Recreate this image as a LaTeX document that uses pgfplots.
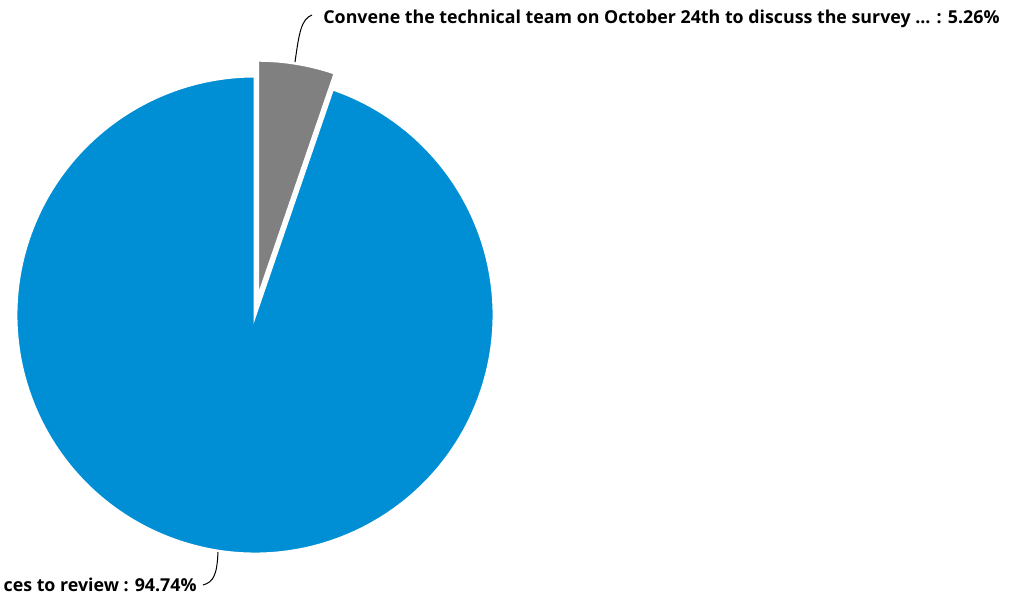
\documentclass[border=0pt]{standalone}
\usepackage{pgfplots}
\pgfplotsset{compat=1.18}
\usepackage{fontspec}
\setmainfont{Open Sans}
\definecolor{pieblue}{RGB}{0,143,213}
\definecolor{piegray}{RGB}{128,128,128}
\begin{document}
\begin{tikzpicture}
\def\va{94.74}
\def\vb{5.26}
\pgfmathsetmacro\ab{90-\vb*3.6}
\pgfmathsetmacro\mid{90-\vb*1.8}
\clip (0,0) rectangle (506.5pt,297pt);
\begin{axis}[at={(0,0)},anchor=south west,width=506.5pt,height=297pt,scale only axis,
  xmin=0,xmax=1013,ymin=0,ymax=594,hide axis,clip=false]
\filldraw[fill=pieblue,draw=white,line width=1.5pt] (axis cs:255,279) -- ++(\ab:119.5pt)
  arc[start angle=\ab,end angle=-270,radius=119.5pt] -- cycle;
\filldraw[fill=piegray,draw=white,line width=1.5pt] ([shift={(\mid:8pt)}]axis cs:255,279) -- ++(90:119.5pt)
  arc[start angle=90,end angle=\ab,radius=119.5pt] -- cycle;
\draw[black,line width=0.5pt] (axis cs:295,532) .. controls (axis cs:299,560) and (axis cs:301,575) .. (axis cs:312,579);
\draw[black,line width=0.5pt] (axis cs:218,42) .. controls (axis cs:217,20) and (axis cs:214,12) .. (axis cs:203,9);
\node[anchor=base west,inner sep=0pt,font=\fontsize{8.9}{10}\selectfont\bfseries] at (axis cs:323,570)
  {Convene the technical team on October 24th to discuss the survey ... : 5.26\%};
\node[anchor=base east,inner sep=0pt,font=\fontsize{8.9}{10}\selectfont\bfseries] at (axis cs:197,2)
  {ces to review : 94.74\%};
\end{axis}
\end{tikzpicture}
\end{document}
